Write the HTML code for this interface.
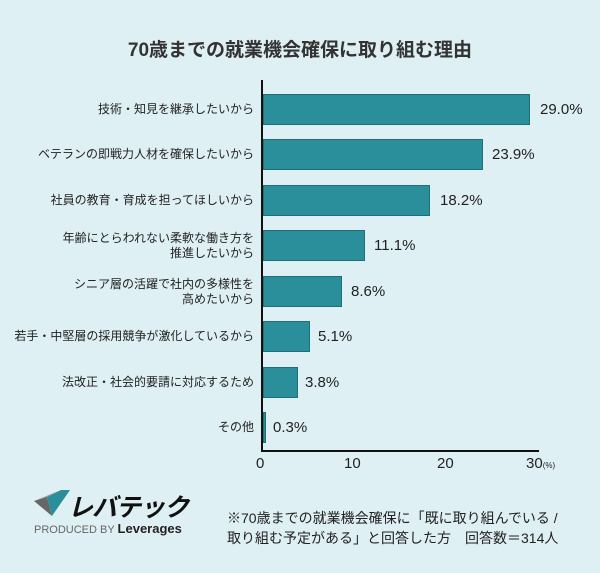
<!DOCTYPE html>
<html><head><meta charset="utf-8"><style>
body{margin:0;width:600px;height:573px;background:#dff0f4;font-family:"Liberation Sans","Noto Sans CJK JP",sans-serif;color:#222;overflow:hidden;position:relative}
.t{position:absolute;white-space:nowrap}
.lab{position:absolute;right:346px;text-align:right;font-size:12px;line-height:15px}
.bar{position:absolute;left:263px;height:31px;background:#2a8f9b;border:1px solid #1f6f78;box-sizing:border-box}
.val{position:absolute;font-size:15px;line-height:16px}
</style></head><body>
<div class="t" style="left:0;width:600px;text-align:center;top:35px;font-size:19px;font-weight:bold;color:#333">70歳までの就業機会確保に取り組む理由</div>
<div style="position:absolute;left:261px;top:80px;width:1.5px;height:372px;background:#111"></div>
<div style="position:absolute;left:261px;top:450px;width:278px;height:1.5px;background:#111"></div>

<div class="lab" style="top:102px">技術・知見を継承したいから</div>
<div class="bar" style="top:94px;width:267px"></div><div class="val" style="left:540px;top:102px">29.0%</div>
<div class="lab" style="top:147px">ベテランの即戦力人材を確保したいから</div>
<div class="bar" style="top:139px;width:220px"></div><div class="val" style="left:492px;top:147px">23.9%</div>
<div class="lab" style="top:193px">社員の教育・育成を担ってほしいから</div>
<div class="bar" style="top:185px;width:167px"></div><div class="val" style="left:440px;top:193px">18.2%</div>
<div class="lab" style="top:231px">年齢にとらわれない柔軟な働き方を<br>推進したいから</div>
<div class="bar" style="top:230px;width:102px"></div><div class="val" style="left:374px;top:238px">11.1%</div>
<div class="lab" style="top:277px">シニア層の活躍で社内の多様性を<br>高めたいから</div>
<div class="bar" style="top:276px;width:79px"></div><div class="val" style="left:351px;top:284px">8.6%</div>
<div class="lab" style="top:329px">若手・中堅層の採用競争が激化しているから</div>
<div class="bar" style="top:321px;width:47px"></div><div class="val" style="left:318px;top:329px">5.1%</div>
<div class="lab" style="top:375px">法改正・社会的要請に対応するため</div>
<div class="bar" style="top:367px;width:35px"></div><div class="val" style="left:305px;top:375px">3.8%</div>
<div class="lab" style="top:420px">その他</div>
<div class="bar" style="top:412px;width:3px"></div><div class="val" style="left:273px;top:420px">0.3%</div>

<div class="t" style="left:256px;top:455px;font-size:15px">0</div>
<div class="t" style="left:344px;top:455px;font-size:15px">10</div>
<div class="t" style="left:437px;top:455px;font-size:15px">20</div>
<div class="t" style="left:526px;top:455px;font-size:15px">30<span style="font-size:8px">(%)</span></div>

<svg style="position:absolute;left:34px;top:490px" width="36" height="28"><polygon points="0,11 13,7 18,26" fill="#666"/><polygon points="13,7 18,26 36,0 27,0" fill="#2a8f9b"/><polygon points="0,11 13,7 27,0" fill="#999"/></svg>
<div class="t" style="left:68px;top:488px;font-size:25px;font-weight:bold;font-style:italic;letter-spacing:-1px;color:#111">レバテック</div>
<div class="t" style="left:34px;top:521px;font-size:11px;color:#666">PRODUCED BY <span style="color:#222;font-size:13px;font-weight:bold">Leverages</span></div>
<div class="t" style="left:227px;top:508px;font-size:14px;line-height:20px">※70歳までの就業機会確保に「既に取り組んでいる /<br>取り組む予定がある」と回答した方　回答数＝314人</div>
</body></html>
